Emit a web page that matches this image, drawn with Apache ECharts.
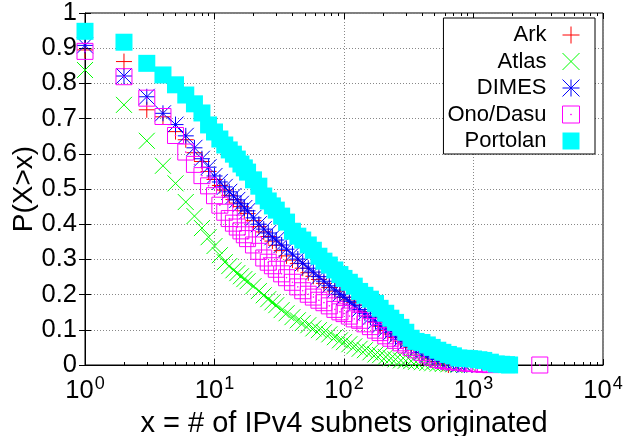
<!DOCTYPE html>
<html>
<head>
<meta charset="utf-8">
<script src="https://cdn.jsdelivr.net/npm/echarts@6/dist/echarts.min.js"></script>
<style>
  html, body { margin: 0; padding: 0; background: #fff; }
  #chart { width: 623px; height: 436px; }
</style>
</head>
<body>
<div id="chart"></div>
<script>
// x = number of IPv4 subnets originated (shared x grid, null = no point)
const subnets = [1, 2, 3, 4, 5, 6, 7, 8, 9, 10,
  11, 12, 13, 14, 15, 16, 17, 18,
  20, 22, 24, 26, 28, 30,
  33, 36, 40, 44, 48,
  53, 58, 64, 70, 77, 85, 93,
  100, 110, 120, 132, 145, 160, 175, 190,
  210, 230, 250, 275, 300, 330, 360,
  400, 440, 480, 530, 580, 640, 700, 770, 850, 930,
  1000, 1100, 1200, 1350, 1500, 1650, 1800, 1900,
  3250]

// P(X>x) per dataset
const ark = [0.895, 0.862, 0.725, 0.705, 0.663, 0.64, 0.603, 0.578, 0.55, 0.527,
  0.51, 0.497, 0.482, 0.47, 0.46, 0.45, 0.438, 0.43,
  0.41, 0.393, 0.378, 0.365, 0.352, 0.34,
  0.325, 0.31, 0.298, 0.288, 0.275,
  0.262, 0.252, 0.243, 0.232, 0.22, 0.21, 0.2,
  0.192, 0.185, 0.178, 0.17, 0.152, 0.137, 0.122, 0.11,
  0.098, 0.088, 0.078, 0.068, 0.06, 0.05, 0.043,
  0.035, 0.026, 0.018, 0.01, 0.005, 0, null, null, null, null,
  null, null, null, null, null, null, null, null,
  null]
const atlas = [0.838, 0.739, 0.637, 0.566, 0.516, 0.463, 0.423, 0.389, 0.363, 0.338,
  0.312, 0.292, 0.281, 0.269, 0.261, 0.252, 0.244, 0.238,
  0.224, 0.21, 0.198, 0.187, 0.178, 0.17,
  0.156, 0.147, 0.136, 0.127, 0.119,
  0.113, 0.104, 0.099, 0.093, 0.087, 0.079, 0.07,
  0.065, 0.059, 0.053, 0.046, 0.042, 0.036, 0.03, 0.028,
  0.023, 0.019, 0.016, 0.013, 0.012, 0.011, 0.009,
  0.008, 0.006, 0.005, 0.004, 0.003, 0.002, 0.002, 0.001, 0.001, 0,
  null, null, null, null, null, null, null, null,
  null]
const dimes = [0.908, 0.821, 0.762, 0.715, 0.683, 0.651, 0.617, 0.586, 0.562, 0.537,
  0.52, 0.506, 0.492, 0.48, 0.469, 0.458, 0.446, 0.438,
  0.418, 0.4, 0.386, 0.375, 0.363, 0.355,
  0.341, 0.329, 0.315, 0.301, 0.289,
  0.275, 0.264, 0.251, 0.238, 0.225, 0.213, 0.201,
  0.193, 0.181, 0.17, 0.158, 0.147, 0.136, 0.124, 0.113,
  0.102, 0.093, 0.082, 0.073, 0.065, 0.053, 0.045,
  0.036, 0.028, 0.022, 0.016, 0.011, 0.008, 0.005, 0.002, 0, null,
  null, null, null, null, null, null, null, null,
  null]
const onoDasu = [0.891, 0.819, 0.758, 0.706, 0.652, 0.605, 0.57, 0.538, 0.509, 0.481,
  0.454, 0.434, 0.416, 0.403, 0.392, 0.381, 0.37, 0.359,
  0.341, 0.323, 0.304, 0.292, 0.282, 0.272,
  0.259, 0.248, 0.235, 0.222, 0.211,
  0.201, 0.193, 0.184, 0.177, 0.168, 0.158, 0.151,
  0.146, 0.139, 0.131, 0.127, 0.117, 0.109, 0.099, 0.092,
  0.083, 0.076, 0.07, 0.063, 0.057, 0.05, 0.043,
  0.036, 0.029, 0.022, 0.016, 0.013, 0.011, 0.009, 0.008, 0.006, 0.005,
  0.004, 0.003, 0.002, 0.001, null, null, null, null,
  0]
const portolan = [0.948, 0.917, 0.857, 0.824, 0.796, 0.767, 0.742, 0.716, 0.682, 0.662,
  0.642, 0.625, 0.611, 0.599, 0.585, 0.571, 0.56, 0.548,
  0.526, 0.508, 0.48, 0.466, 0.452, 0.44,
  0.423, 0.406, 0.38, 0.366, 0.355,
  0.341, 0.326, 0.309, 0.295, 0.284, 0.27, 0.257,
  0.246, 0.235, 0.224, 0.209, 0.198, 0.187, 0.175, 0.161,
  0.147, 0.133, 0.121, 0.107, 0.093, 0.076, 0.067,
  0.064, 0.057, 0.05, 0.042, 0.036, 0.03, 0.026, 0.02, 0.019, 0.018,
  0.017, 0.015, 0.013, 0.008, 0.003, 0.002, 0.001, 0,
  null]

const seriesNames = ['Ark', 'Atlas', 'DIMES', 'Ono/Dasu', 'Portolan']
const seriesValues = [ark, atlas, dimes, onoDasu, portolan]
const yTicks = [0, 0.1, 0.2, 0.3, 0.4, 0.5, 0.6, 0.7, 0.8, 0.9, 1]

const FONT = '"Liberation Sans", Arial, Helvetica, sans-serif'

// gnuplot style point types
const marks = [
  { symbol: 'path://M0,5L10,5M5,0L5,10', color: '#ff0000', size: 16, filled: false },
  { symbol: 'path://M0,0L10,10M10,0L0,10', color: '#00ff00', size: 16, filled: false },
  { symbol: 'path://M0,5L10,5M5,0L5,10M0,0L10,10M10,0L0,10', color: '#0000ff', size: 16, filled: false },
  { symbol: 'path://M0,0H10V10H0ZM4.8,4.8H5.2V5.2H4.8Z', color: '#ff00ff', size: 16, filled: false },
  { symbol: 'rect', color: '#00ffff', size: 17, filled: true }
]

function pairs (values) {
  const out = []
  values.forEach((v, i) => {
    if (v !== null) out.push([subnets[i], v])
  })
  return out
}

const series = seriesNames.map((name, i) => {
  const m = marks[i]
  return {
    name: name,
    type: 'scatter',
    xAxisIndex: 0,
    yAxisIndex: 0,
    symbol: m.symbol,
    symbolSize: m.size,
    clip: false,
    itemStyle: m.filled
      ? { color: m.color, opacity: 1 }
      : { color: 'rgba(0,0,0,0)', borderColor: m.color, borderWidth: 1, opacity: 1 },
    emphasis: { disabled: true },
    data: pairs(seriesValues[i])
  }
})

// minor tick positions (log10 of 2..9 per decade) for the hidden helper axes
const minorTicks = []
for (let d = 0; d < 4; d++) {
  for (let k = 2; k <= 9; k++) minorTicks.push(d + Math.log10(k))
}

const gridLine = { show: true, lineStyle: { color: '#888', type: [1, 2], width: 1 } }

const chart = echarts.init(document.getElementById('chart'))
chart.setOption({
  animation: false,
  backgroundColor: '#fff',
  grid: {
    left: 85, right: 20, top: 13, bottom: 71,
    outerBoundsMode: 'none',
    containLabel: false,
    show: true, borderColor: '#000', borderWidth: 1, backgroundColor: 'transparent'
  },
  legend: {
    orient: 'vertical',
    right: 28,
    top: 18,
    align: 'right',
    itemWidth: 17,
    itemHeight: 17,
    itemGap: 4.5,
    padding: [6, 15, 2, 4],
    backgroundColor: '#fff',
    borderColor: '#000',
    borderWidth: 1,
    selectedMode: false,
    itemStyle: { borderWidth: 1 },
    textStyle: { fontSize: 22, fontFamily: FONT, color: '#000', padding: [0, 11, 0, 0] },
    data: seriesNames
  },
  xAxis: [
    {
      type: 'log',
      logBase: 10,
      min: 1,
      max: 10000,
      position: 'bottom',
      name: 'x = # of IPv4 subnets originated',
      nameLocation: 'middle',
      nameGap: 44,
      nameMoveOverlap: false,
      nameTextStyle: { fontSize: 29, fontFamily: FONT, color: '#000' },
      axisLine: { show: true, lineStyle: { color: '#000', width: 1 } },
      axisTick: { show: true, inside: true, length: 6, lineStyle: { color: '#000' } },
      minorTick: { show: false },
      splitLine: gridLine,
      axisLabel: {
        margin: 10,
        color: '#000',
        formatter: v => '{b|10}{s|' + Math.round(Math.log10(v)) + '}',
        rich: {
          b: { fontSize: 25.5, fontFamily: FONT, color: '#000', verticalAlign: 'bottom' },
          s: { fontSize: 18, fontFamily: FONT, color: '#000', verticalAlign: 'bottom', padding: [0, 0, 11, 1] }
        }
      }
    },
    {
      type: 'value',
      min: 0,
      max: 4,
      position: 'bottom',
      axisLine: { show: false },
      axisLabel: { show: false },
      splitLine: { show: false },
      axisTick: { show: true, inside: true, length: 3, customValues: minorTicks, lineStyle: { color: '#000' } }
    },
    {
      type: 'log',
      logBase: 10,
      min: 1,
      max: 10000,
      position: 'top',
      axisLine: { show: false },
      axisLabel: { show: false },
      splitLine: { show: false },
      axisTick: { show: true, inside: true, length: 6, lineStyle: { color: '#000' } }
    },
    {
      type: 'value',
      min: 0,
      max: 4,
      position: 'top',
      axisLine: { show: false },
      axisLabel: { show: false },
      splitLine: { show: false },
      axisTick: { show: true, inside: true, length: 3, customValues: minorTicks, lineStyle: { color: '#000' } }
    }
  ],
  yAxis: [
    {
      type: 'value',
      min: 0,
      max: 1,
      interval: 0.1,
      position: 'left',
      name: 'P(X>x)',
      nameLocation: 'middle',
      nameGap: 47,
      nameMoveOverlap: false,
      nameTextStyle: { fontSize: 28, fontFamily: FONT, color: '#000' },
      axisLine: { show: true, lineStyle: { color: '#000', width: 1 } },
      axisTick: { show: true, inside: true, length: 6, lineStyle: { color: '#000' } },
      splitLine: gridLine,
      axisLabel: {
        margin: 8,
        fontSize: 25.5,
        fontFamily: FONT,
        color: '#000',
        customValues: yTicks,
        formatter: v => String(Math.round(v * 10) / 10)
      }
    },
    {
      type: 'value',
      min: 0,
      max: 1,
      interval: 0.1,
      position: 'right',
      axisLine: { show: false },
      axisLabel: { show: false },
      splitLine: { show: false },
      axisTick: { show: true, inside: true, length: 6, lineStyle: { color: '#000' } }
    }
  ],
  series: series
})
</script>
</body>
</html>
